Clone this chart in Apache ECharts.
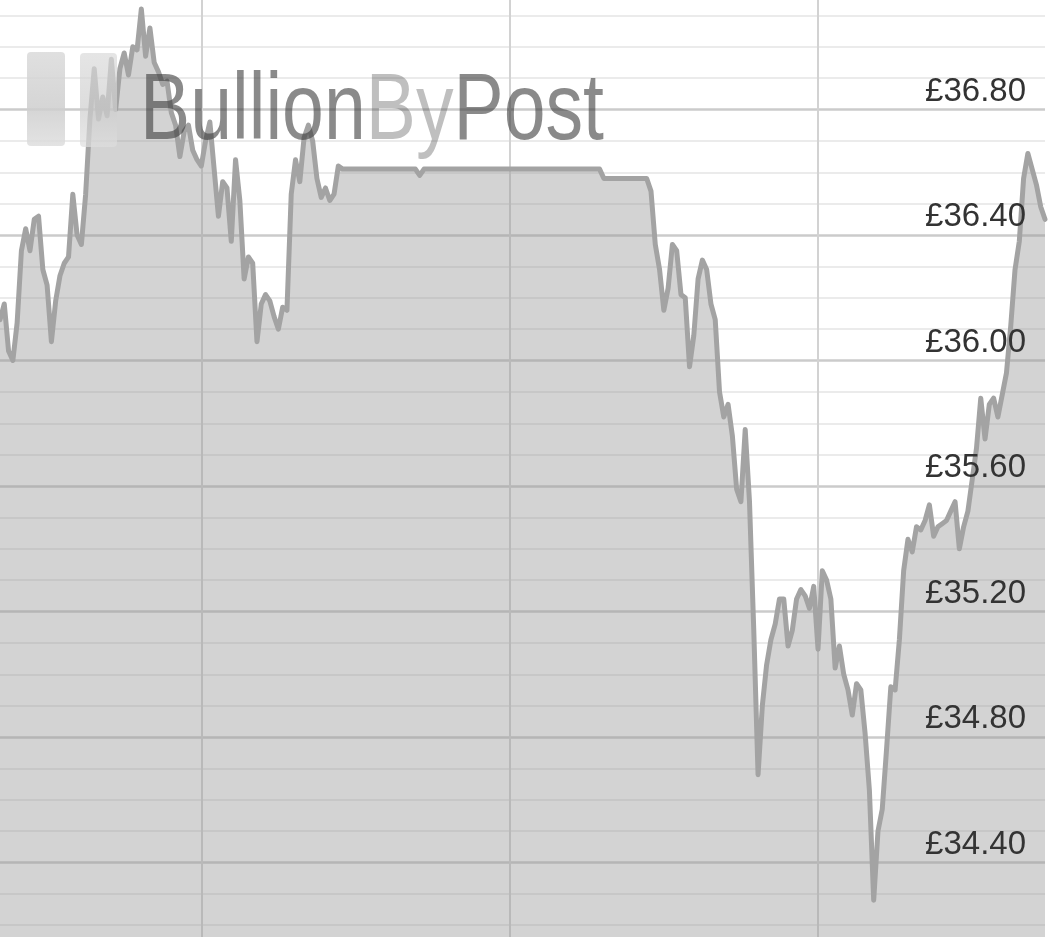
<!DOCTYPE html>
<html>
<head>
<meta charset="utf-8">
<script src="https://cdn.jsdelivr.net/npm/echarts@6/dist/echarts.min.js"></script>
<style>
html,body{margin:0;padding:0;background:#fff;overflow:hidden;width:1059px;height:937px;position:relative;}
#chart{position:absolute;left:0;top:-16px;width:1059px;height:1004px;}
</style>
</head>
<body>
<div id="chart"></div>
<script>
// Silver price (GBP) sampled every 20 minutes
var prices = [
36.13,36.18,36.03,36.00,36.12,36.35,36.42,36.35,36.45,36.46,
36.29,36.24,36.06,36.19,36.27,36.31,36.33,36.53,36.40,36.37,
36.53,36.77,36.93,36.77,36.84,36.78,36.96,36.80,36.93,36.98,
36.91,37.00,36.99,37.12,36.97,37.06,36.95,36.92,36.88,36.89,
36.79,36.75,36.65,36.73,36.75,36.67,36.64,36.62,36.70,36.76,
36.61,36.46,36.57,36.55,36.38,36.64,36.51,36.26,36.33,36.31,
36.06,36.18,36.21,36.19,36.14,36.10,36.17,36.16,36.53,36.64,
36.57,36.71,36.75,36.70,36.58,36.52,36.55,36.51,36.53,36.62,
36.61,36.61,36.61,36.61,36.61,36.61,36.61,36.61,36.61,36.61,
36.61,36.61,36.61,36.61,36.61,36.61,36.61,36.61,36.59,36.61,
36.61,36.61,36.61,36.61,36.61,36.61,36.61,36.61,36.61,36.61,
36.61,36.61,36.61,36.61,36.61,36.61,36.61,36.61,36.61,36.61,
36.61,36.61,36.61,36.61,36.61,36.61,36.61,36.61,36.61,36.61,
36.61,36.61,36.61,36.61,36.61,36.61,36.61,36.61,36.61,36.61,
36.61,36.58,36.58,36.58,36.58,36.58,36.58,36.58,36.58,36.58,
36.58,36.58,36.54,36.37,36.29,36.16,36.23,36.37,36.35,36.21,
36.20,35.98,36.08,36.26,36.32,36.29,36.18,36.13,35.90,35.82,
35.86,35.76,35.59,35.55,35.78,35.55,35.14,34.68,34.90,35.03,
35.11,35.16,35.24,35.24,35.09,35.14,35.24,35.27,35.25,35.21,
35.28,35.08,35.33,35.30,35.24,35.02,35.09,35.00,34.95,34.87,
34.97,34.95,34.81,34.63,34.28,34.50,34.57,34.76,34.96,34.95,
35.11,35.33,35.43,35.39,35.47,35.46,35.49,35.54,35.44,35.47,
35.48,35.49,35.52,35.55,35.40,35.47,35.52,35.62,35.72,35.88,
35.75,35.86,35.88,35.82,35.89,35.96,36.11,36.29,36.38,36.58,
36.66,36.61,36.56,36.49,36.45
];

// y-axis tick labels (every 40p)
var yTickValues = [34.40, 34.80, 35.20, 35.60, 36.00, 36.40, 36.80];
var yTickLabels = ['£34.40', '£34.80', '£35.20', '£35.60', '£36.00', '£36.40', '£36.80'];

// time categories: 20-minute steps, first point at 08:20 on day 1
var startDay = 1, startMinutes = 8 * 60 + 20, stepMinutes = 20;
var times = [];
for (var i = 0; i < prices.length; i++) {
  var m = startMinutes + i * stepMinutes;
  var d = startDay + Math.floor(m / 1440);
  var mm = m % 1440;
  var hh = Math.floor(mm / 60), mi = mm % 60;
  times.push('Day ' + d + ' ' + (hh < 10 ? '0' : '') + hh + ':' + (mi < 10 ? '0' : '') + mi);
}

// the chart canvas extends 16px above the page top (axis range 34.00-37.20)
var OFFSET = 16;

var labelFormatter = function (v) {
  for (var k = 0; k < yTickValues.length; k++) {
    if (Math.abs(yTickValues[k] - v) < 1e-6) return yTickLabels[k];
  }
  return '';
};

var chart = echarts.init(document.getElementById('chart'), null, {renderer: 'canvas'});
chart.setOption({
  backgroundColor: '#ffffff',
  animation: false,
  grid: {left: 0, right: 14, top: 0, bottom: 0, containLabel: false},
  xAxis: {
    type: 'category',
    data: times,
    boundaryGap: false,
    axisLine: {show: false},
    axisTick: {show: false},
    axisLabel: {show: false},
    splitLine: {
      show: true,
      interval: function (idx, val) { return String(val).slice(-5) === '00:00'; },
      lineStyle: {color: '#d2d2d2', width: 2}
    }
  },
  yAxis: [{
    // grid lines (drawn beneath the area)
    type: 'value',
    position: 'right',
    min: 34.0,
    max: 37.2,
    interval: 0.4,
    axisLine: {show: false},
    axisTick: {show: false},
    axisLabel: {show: false},
    splitLine: {show: true, lineStyle: {color: '#cbcbcb', width: 2.5}},
    minorTick: {show: false, splitNumber: 4},
    minorSplitLine: {show: true, lineStyle: {color: '#ebebeb', width: 2}}
  }, {
    // price labels (drawn above the area)
    type: 'value',
    position: 'right',
    min: 34.0,
    max: 37.2,
    interval: 0.4,
    z: 10,
    axisLine: {show: false},
    axisTick: {show: false},
    splitLine: {show: false},
    axisLabel: {
      inside: true,
      margin: 19,
      fontSize: 33,
      lineHeight: 36,
      verticalAlign: 'bottom',
      color: '#333333',
      fontFamily: 'Liberation Sans, Arial, Helvetica, sans-serif',
      formatter: labelFormatter
    }
  }],
  series: [{
    type: 'line',
    data: prices,
    yAxisIndex: 0,
    symbol: 'none',
    smooth: false,
    lineStyle: {color: '#a3a3a3', width: 5, join: 'round', cap: 'round'},
    areaStyle: {color: 'rgba(150,150,150,0.42)', opacity: 1},
    z: 2
  }],
  graphic: [
    {
      type: 'rect', z: 100,
      shape: {x: 27, y: 52 + OFFSET, width: 38, height: 94, r: 4},
      style: {fill: new echarts.graphic.LinearGradient(0, 0, 0, 1, [
        {offset: 0, color: 'rgba(218,218,218,0.85)'},
        {offset: 0.6, color: 'rgba(206,206,206,0.85)'},
        {offset: 1, color: 'rgba(222,222,222,0.85)'}
      ])}
    },
    {
      type: 'rect', z: 100,
      shape: {x: 80, y: 53 + OFFSET, width: 37, height: 94, r: 4},
      style: {fill: new echarts.graphic.LinearGradient(0, 0, 0, 1, [
        {offset: 0, color: 'rgba(218,218,218,0.7)'},
        {offset: 0.6, color: 'rgba(206,206,206,0.7)'},
        {offset: 1, color: 'rgba(222,222,222,0.7)'}
      ])}
    },
    {
      type: 'text', z: 101,
      x: 140, y: 160 + OFFSET,
      scaleX: 0.8,
      style: {
        text: '{a|Bullion}{b|By}{a|Post}',
        verticalAlign: 'bottom',
        rich: {
          a: {fontSize: 94, fontFamily: 'Liberation Sans, Arial, sans-serif', fill: 'rgba(60,60,60,0.6)'},
          b: {fontSize: 94, fontFamily: 'Liberation Sans, Arial, sans-serif', fill: 'rgba(60,60,60,0.33)'}
        }
      }
    }
  ]
});
</script>
</body>
</html>
